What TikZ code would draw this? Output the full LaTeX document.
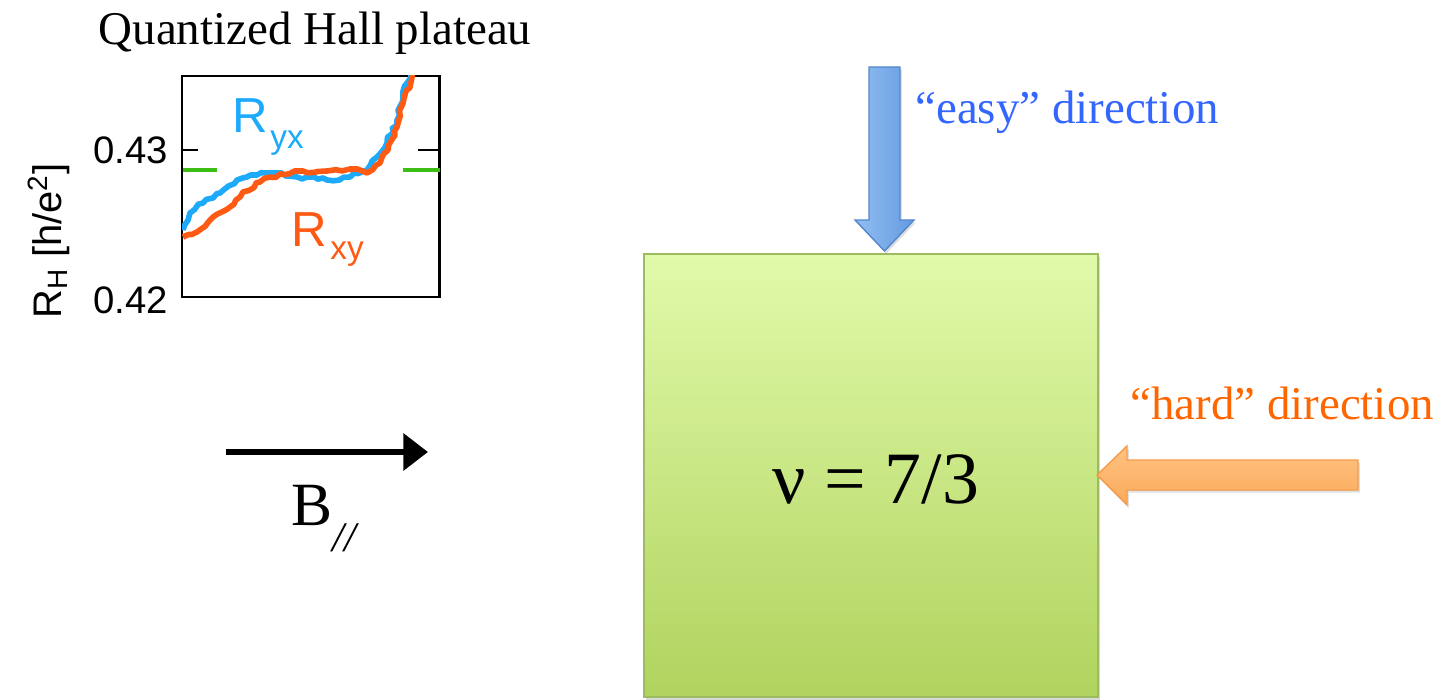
\documentclass[tikz,border=0pt]{standalone}
\usepackage{fontspec}
\setmainfont{Liberation Serif}
\setsansfont{Liberation Sans}
\usepackage{tikz}
\usetikzlibrary{
  arrows.meta, positioning, calc, decorations.pathmorphing, shadows
}
\usepackage{xcolor}
\definecolor{easyblue}{RGB}{51,102,255}
\definecolor{hardorange}{RGB}{255,102,0}
\definecolor{curveblue}{RGB}{30,170,250}
\definecolor{curveorange}{RGB}{255,90,20}
\definecolor{plateaugreen}{RGB}{60,190,20}
\definecolor{filmtop}{RGB}{225,250,170}
\definecolor{filmbottom}{RGB}{176,211,94}
\definecolor{filmedge}{RGB}{157,187,97}
\definecolor{arrowblueL}{RGB}{145,190,240}
\definecolor{arrowblueR}{RGB}{100,155,225}
\definecolor{arrowblueedge}{RGB}{85,135,205}
\definecolor{arroworangeT}{RGB}{255,195,130}
\definecolor{arroworangeB}{RGB}{250,170,90}
\definecolor{arroworangeedge}{RGB}{245,155,75}

\begin{document}
\begin{tikzpicture}[x=0.2mm, y=-0.2mm,
  big/.style={font=\fontsize{26.7}{30}\selectfont, inner sep=0pt},
  ticklbl/.style={font=\sffamily\fontsize{21.8}{24}\selectfont, inner sep=0pt},
  curvelbl/.style={font=\sffamily\fontsize{28}{30}\selectfont, inner sep=0pt},
  sublbl/.style={font=\sffamily\fontsize{19}{21}\selectfont, inner sep=0pt},
  axisline/.style={line width=1.7pt},
  ryx/.style={curveblue, line width=3.2pt, line join=round},
  rxy/.style={curveorange, line width=3.2pt, line join=round},
  noisy/.style={decorate, decoration={random steps, segment length=3pt, amplitude=1.1pt}},
  plateau/.style={plateaugreen, line width=2.4pt},
  bfield/.style={line width=3.5pt, -{Triangle[length=14pt, width=20.5pt]}},
  film/.style={draw=filmedge, line width=0.8pt, top color=filmtop,
    bottom color=filmbottom, inner sep=0pt,
    drop shadow={opacity=0.3, shadow xshift=1pt, shadow yshift=-1.5pt}},
  easyarrow/.style={draw=arrowblueedge, line width=0.8pt, left color=arrowblueL,
    right color=arrowblueR,
    drop shadow={opacity=0.25, shadow xshift=1pt, shadow yshift=-1.5pt}},
  hardarrow/.style={draw=arroworangeedge, line width=0.8pt, top color=arroworangeT,
    bottom color=arroworangeB,
    drop shadow={opacity=0.25, shadow xshift=1pt, shadow yshift=-1.5pt}}
]
  \useasboundingbox (0,0) rectangle (1444,700);
  \pgfmathsetseed{7}

  % Plot title
  \node[big, anchor=base] (title) at (315,45) {Quantized Hall plateau};

  % Frame and ticks
  \draw[axisline] (182,76) rectangle (439,297);
  \draw[axisline] (182,150) -- (198,150);
  \draw[axisline] (418,150) -- (439,150);
  \node[ticklbl, anchor=east] (t43) at (168,150) {0.43};
  \node[ticklbl, anchor=east] (t42) at (168,300) {0.42};
  \node[font=\sffamily\fontsize{22.7}{24}\selectfont, rotate=90, inner sep=0pt]
    (ylbl) at (49,241) {R\textsubscript{H} [h/e\textsuperscript{2}]};

  % Quantized value
  \draw[plateau] (183,170) -- (217,170);
  \draw[plateau] (403,170) -- (440,170);

  % Measured curves
  \begin{scope}
    \clip (182,76) rectangle (439,297);
    \draw[ryx, noisy] (183,230) -- (190,213) -- (203,203) -- (220,193)
      -- (237,180) -- (257,175) -- (270,173) -- (297,177) -- (327,180)
      -- (350,177) -- (367,170) -- (377,157) -- (387,143) -- (397,120)
      -- (403,97) -- (411,72);
    \draw[rxy, noisy] (183,237) -- (197,232) -- (213,217) -- (230,207)
      -- (243,192) -- (260,182) -- (280,174) -- (303,171) -- (327,171)
      -- (350,169) -- (367,173) -- (380,163) -- (388,150) -- (397,127)
      -- (403,103) -- (413,72);
  \end{scope}
  \node[curvelbl, curveblue, anchor=base west] (ryxR) at (232,133) {R};
  \node[sublbl, curveblue, anchor=base west] (ryxsub) at (270,149) {yx};
  \node[curvelbl, curveorange, anchor=base west] (rxyR) at (291,247) {R};
  \node[sublbl, curveorange, anchor=base west] (rxysub) at (330,260) {xy};

  % In-plane field
  \coordinate (bstart) at (226,452);
  \coordinate (bend) at (428,452);
  \draw[bfield] (bstart) -- (bend);
  \node[font=\fontsize{35}{40}\selectfont, anchor=base west, inner sep=0pt]
    (blbl) at (291,525) {B\raisebox{-15pt}{\fontsize{24}{26}\selectfont\itshape //}};

  % Sample
  \node[film, minimum width=90.8mm, minimum height=88.6mm] (film) at (871,475.5) {};
  \node[font=\fontsize{42}{46}\selectfont, anchor=base, inner sep=0pt]
    (nu) at (876,503) {ν = 7/3};

  % Directions
  \draw[easyarrow] (869,67) -- (900,67) -- (900,220) -- (914,220)
    -- (884.5,251) -- (855,220) -- (869,220) -- cycle;
  \node[big, easyblue, anchor=base west] (easy) at (915,124) {“easy” direction};
  \draw[hardarrow] (1358,460) -- (1127,460) -- (1127,446) -- (1097,475)
    -- (1127,505) -- (1127,490) -- (1358,490) -- cycle;
  \node[big, hardorange, anchor=base west] (hard) at (1130,420) {“hard” direction};
\end{tikzpicture}
\end{document}
